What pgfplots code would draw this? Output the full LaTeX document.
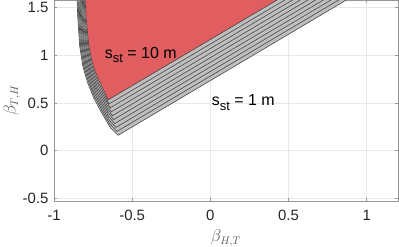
\documentclass[border=0pt]{standalone}
\usepackage{pgfplots}
\pgfplotsset{compat=1.18}
\usepackage{fontspec}
\setmainfont{Liberation Sans}
\definecolor{redfill}{RGB}{224,94,96}
\definecolor{grayfill}{RGB}{190,190,190}
\definecolor{edge}{RGB}{70,70,70}
\definecolor{axgray}{RGB}{150,150,150}
\definecolor{txt}{RGB}{38,38,38}
\definecolor{gridc}{RGB}{232,232,232}
\newcommand{\sst}{s\raisebox{-4.5bp}{\fontsize{13}{15}\selectfont st}}
\begin{document}
\begin{tikzpicture}
\begin{axis}[
  name=ax,
  scale only axis,
  width=344bp, height=201bp,
  xmin=-1, xmax=1.2, ymin=-0.53, ymax=1.58,
  xtick={-1,-0.5,0,0.5,1},
  ytick={-0.5,0,0.5,1,1.5},
  grid=major,
  major grid style={gridc, line width=0.5bp},
  axis line style={axgray, line width=0.6bp},
  tick style={axgray, line width=0.6bp},
  tick align=inside,
  major tick length=3bp,
  /pgf/number format/assume math mode=true,
  ticklabel style={font=\fontsize{15}{18}\selectfont, text=txt},
  xticklabel style={yshift=-6bp},
  yticklabel style={xshift=-2bp},
  xlabel={$\beta_{H,T}$},
  ylabel={$\beta_{T,H}$},
  label style={font=\fontsize{16}{19}\selectfont, text=gray!70!black},
  xlabel style={at={(axis description cs:0.5,-0.184)}, anchor=center},
  ylabel style={at={(axis description cs:-0.122,0.5)}, anchor=center},
  clip=true,
]
% s_st = 1
\addplot[fill=grayfill, draw=edge, line width=0.6bp] coordinates {
 (-0.855,1.70) (-0.848,1.40) (-0.836,1.10) (-0.815,0.880) (-0.785,0.710) (-0.745,0.550) (-0.700,0.410) (-0.640,0.240) (-0.590,0.160) (0.993,1.70)} -- cycle;
% s_st = 2
\addplot[fill=grayfill, draw=edge, line width=0.6bp] coordinates {
 (-0.849,1.70) (-0.842,1.40) (-0.830,1.10) (-0.809,0.886) (-0.779,0.722) (-0.741,0.570) (-0.699,0.438) (-0.643,0.279) (-0.597,0.201) (0.944,1.70)} -- cycle;
% s_st = 3
\addplot[fill=grayfill, draw=edge, line width=0.6bp] coordinates {
 (-0.844,1.70) (-0.836,1.40) (-0.823,1.10) (-0.802,0.891) (-0.774,0.734) (-0.738,0.590) (-0.698,0.466) (-0.647,0.318) (-0.604,0.242) (0.895,1.70)} -- cycle;
% s_st = 4
\addplot[fill=grayfill, draw=edge, line width=0.6bp] coordinates {
 (-0.838,1.70) (-0.830,1.40) (-0.817,1.10) (-0.796,0.897) (-0.768,0.747) (-0.734,0.610) (-0.697,0.493) (-0.650,0.357) (-0.612,0.283) (0.846,1.70)} -- cycle;
% s_st = 5
\addplot[fill=grayfill, draw=edge, line width=0.6bp] coordinates {
 (-0.833,1.70) (-0.824,1.40) (-0.810,1.10) (-0.789,0.902) (-0.763,0.759) (-0.730,0.630) (-0.696,0.521) (-0.653,0.396) (-0.619,0.324) (0.797,1.70)} -- cycle;
% s_st = 6
\addplot[fill=grayfill, draw=edge, line width=0.6bp] coordinates {
 (-0.827,1.70) (-0.819,1.40) (-0.804,1.10) (-0.783,0.908) (-0.757,0.771) (-0.727,0.650) (-0.694,0.549) (-0.657,0.434) (-0.626,0.366) (0.747,1.70)} -- cycle;
% s_st = 7
\addplot[fill=grayfill, draw=edge, line width=0.6bp] coordinates {
 (-0.822,1.70) (-0.813,1.40) (-0.797,1.10) (-0.776,0.913) (-0.752,0.783) (-0.723,0.670) (-0.693,0.577) (-0.660,0.473) (-0.633,0.407) (0.698,1.70)} -- cycle;
% s_st = 8
\addplot[fill=grayfill, draw=edge, line width=0.6bp] coordinates {
 (-0.816,1.70) (-0.807,1.40) (-0.791,1.10) (-0.770,0.919) (-0.746,0.796) (-0.719,0.690) (-0.692,0.604) (-0.663,0.512) (-0.641,0.448) (0.649,1.70)} -- cycle;
% s_st = 9
\addplot[fill=grayfill, draw=edge, line width=0.6bp] coordinates {
 (-0.811,1.70) (-0.801,1.40) (-0.784,1.10) (-0.763,0.924) (-0.741,0.808) (-0.716,0.710) (-0.691,0.632) (-0.667,0.551) (-0.648,0.489) (0.600,1.70)} -- cycle;
% s_st = 10
\addplot[fill=redfill, draw=edge, line width=0.6bp] coordinates {
 (-0.805,1.70) (-0.795,1.40) (-0.778,1.10) (-0.757,0.930) (-0.735,0.820) (-0.712,0.730) (-0.690,0.660) (-0.670,0.590) (-0.655,0.530) (0.551,1.70)} -- cycle;
\node[font=\fontsize{16}{19}\selectfont, text=black, anchor=base] at (axis cs:-0.445,0.97) {\sst{} = 10 m};
\node[font=\fontsize{16}{19}\selectfont, text=black, anchor=base] at (axis cs:0.21,0.47) {\sst{} = 1 m};
\end{axis}
\pgfresetboundingbox
\path[use as bounding box] ([shift={(-54bp,-46bp)}]ax.south west) rectangle ([shift={(1bp,0bp)}]ax.north east);
\end{tikzpicture}
\end{document}
